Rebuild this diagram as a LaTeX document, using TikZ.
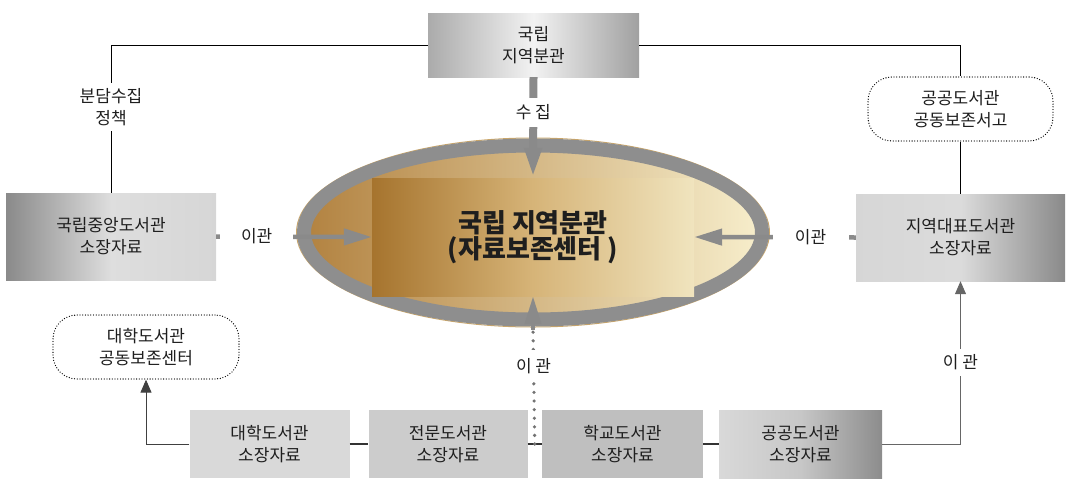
\documentclass[tikz,border=0pt]{standalone}
\usepackage{fontspec}
\setmainfont{Noto Sans CJK KR}
\usetikzlibrary{arrows.meta,shapes.geometric,calc}
\definecolor{ringgray}{HTML}{8E8E8E}
\definecolor{arrgray}{HTML}{8A8A8A}
\definecolor{txtc}{HTML}{1E1E1E}
\begin{document}
\begin{tikzpicture}[x=1pt,y=-1pt,
  txt/.style={font=\fontsize{17}{22}\selectfont, align=center, text=txtc},
  lab/.style={txt, fill=white, inner xsep=4pt, inner ysep=5pt},
  graybox/.style={txt, inner sep=0pt, minimum height=68pt},
  bigbox/.style={txt, inner sep=0pt, minimum height=87pt, minimum width=210pt},
  dotbox/.style={txt, draw=black, line width=1.3pt, dash pattern=on 0pt off 2.7pt, line cap=round,
                 rounded corners=24pt, inner sep=0pt, minimum height=64pt},
  garrow/.style={draw=arrgray, line width=4.5pt, -{Triangle[length=28pt,width=16pt]}},
  thinarrow/.style={draw=black!75, line width=0.9pt, -{Triangle[length=13pt,width=11pt]}},
  link/.style={draw=black, line width=0.9pt},
  graydots/.style={draw=black!55, line width=3.6pt, dash pattern=on 0pt off 8.6pt, line cap=round}
]
\useasboundingbox (0,0) rectangle (1068,480);

% central ellipse and rectangle
\node[ellipse, minimum width=473pt, minimum height=189pt, inner sep=0pt, draw={rgb,255:red,201;green,166;blue,107}, line width=1pt] (ellrim) at (533,232.5) {};
\node[ellipse, minimum width=458pt, minimum height=174pt, inner sep=0pt,
      left color={rgb,255:red,178;green,130;blue,64}, right color={rgb,255:red,247;green,238;blue,204},
      draw=ringgray, line width=14pt] (ell) at (533,232.5) {};
\node[inner sep=0pt, minimum width=322pt, minimum height=118pt,
      left color={rgb,255:red,166;green,116;blue,46}, right color={rgb,255:red,240;green,228;blue,190},
      middle color={rgb,255:red,214;green,180;blue,120},
      font=\fontsize{26}{24}\bfseries\selectfont, text=txtc, align=center] (rect) at (533,237)
      {국립 지역분관\\(자료보존센터 )};

% top box
\node[txt, inner sep=0pt, minimum width=211pt, minimum height=64pt,
      left color=black!33, right color=black!37, middle color=black!5] (top) at (533.5,45) {국립\\지역분관};

% side boxes
\node[bigbox, left color=black!46, right color=black!16, middle color=black!13] (lbox) at (111,236.5) {국립중앙도서관\\소장자료};
\node[bigbox, minimum width=209pt, left color=black!16, right color=black!46, middle color=black!14] (rbox) at (960.5,237.5) {지역대표도서관\\소장자료};

% dotted rounded boxes
\node[dotbox, minimum width=185pt] (rdot) at (960.5,109) {공공도서관\\공동보존서고};
\node[dotbox, minimum width=186pt] (ldot) at (146,347) {대학도서관\\공동보존센터};

% bottom row
\node[graybox, minimum width=160pt, fill=black!15] (b1) at (269.5,444) {대학도서관\\소장자료};
\node[graybox, minimum width=159pt, fill=black!20] (b2) at (448,444) {전문도서관\\소장자료};
\node[graybox, minimum width=161pt, fill=black!25] (b3) at (622.5,444) {학교도서관\\소장자료};
\node[graybox, minimum width=163pt, left color=black!15, right color=black!45, middle color=black!22] (b4) at (800.5,444) {공공도서관\\소장자료};

% top links
\draw[link] (top.west) -| node[lab, pos=0.71] {분담수집\\정책} (lbox.north);
\draw[link] (top.east) -| (rdot.north);
\draw[link] (rdot.south) -- (rbox.north);

% arrows into the centre
\draw[garrow, line width=8pt, -{Triangle[length=30pt,width=16pt]}] (top.south) -- node[lab, pos=0.35, inner ysep=7pt, inner xsep=2pt] {수 집} (rect.north);
\draw[garrow] (lbox.east) -- node[lab, pos=0.26, minimum width=73pt] {이관} (rect.west);
\draw[garrow] (rbox.west) -- node[lab, pos=0.28, minimum width=76pt] {이관} (rect.east);

% bottom links
\draw[link, line width=2pt, draw=black!80] (b1.east) -- (b2.west);
\draw[link, line width=2pt, draw=black!80] (b2.east) -- (b3.west);
\draw[link, line width=2pt, draw=black!80] (b3.east) -- (b4.west);
\coordinate (dm) at ($(b2.east)!0.5!(b3.west)$);
\coordinate (ellb) at ([yshift=-3pt]ell.south);
\draw[graydots] (dm) -- node[lab, pos=0.68, inner ysep=8pt] {이 관} (ellb);
\draw[garrow, -{Triangle[length=28pt,width=16pt]}] (ellb) -- (rect.south);

\draw[thinarrow] (b1.west) -| (ldot.south);
\draw[thinarrow, draw=black!60] (b4.east) -| node[lab, pos=0.75, inner ysep=6pt] {이 관} (rbox.south);
\end{tikzpicture}
\end{document}
